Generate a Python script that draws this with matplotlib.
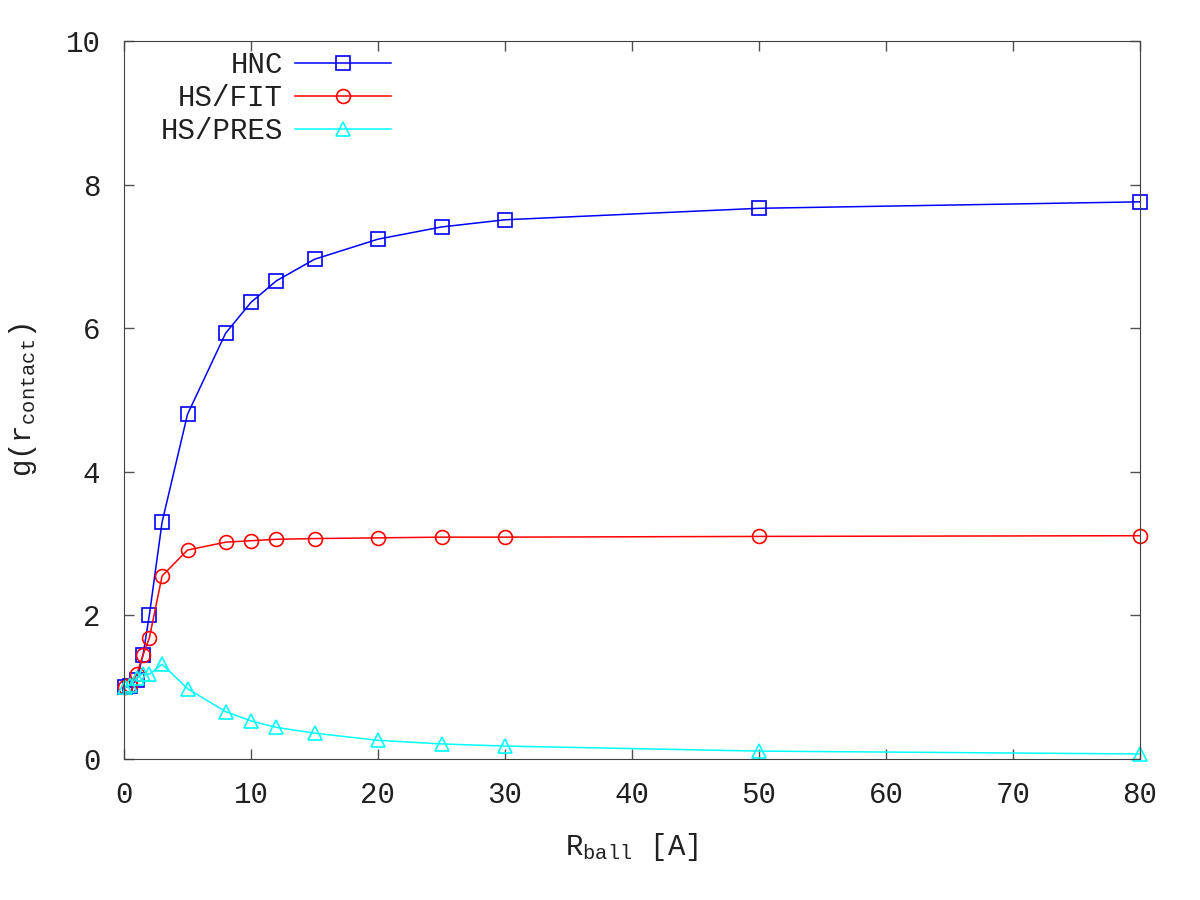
import matplotlib
matplotlib.use('Agg')
import matplotlib.pyplot as plt

plt.rcParams['font.family'] = ['Liberation Mono', 'DejaVu Sans Mono']
plt.rcParams['mathtext.fontset'] = 'custom'
plt.rcParams['mathtext.rm'] = 'Liberation Mono'

# ball radius [A]
r_ball = [0.1, 0.5, 1, 1.5, 2, 3, 5, 8, 10, 12, 15, 20, 25, 30, 50, 80]
g_hnc = [1.0, 1.02, 1.10, 1.45, 2.01, 3.30, 4.80, 5.93, 6.36, 6.66, 6.96, 7.24, 7.41, 7.51, 7.67, 7.76]
g_fit = [1.0, 1.03, 1.18, 1.45, 1.69, 2.55, 2.91, 3.02, 3.04, 3.06, 3.07, 3.08, 3.09, 3.09, 3.10, 3.11]
g_pres = [1.0, 1.03, 1.13, 1.19, 1.18, 1.32, 0.98, 0.66, 0.53, 0.44, 0.36, 0.26, 0.21, 0.18, 0.11, 0.07]

fig = plt.figure(figsize=(12, 9), dpi=100)
ax = fig.add_axes([124/1200, 141/900, (1140-124)/1200, (759-41)/900])

style = dict(lw=1.1, ms=10, mfc='none', mew=1.2, clip_on=False)
ax.plot(r_ball, g_hnc, '-', color='#0000ff', marker='s', label='HNC', **style)
ax.plot(r_ball, g_fit, '-', color='#ff0000', marker='o', label='HS/FIT', **style)
ax.plot(r_ball, g_pres, '-', color='#00ffff', marker='^', label='HS/PRES', **style)

ax.set_xlim(0, 80)
ax.set_ylim(0, 10)
ax.set_xticks(range(0, 81, 10))
ax.set_yticks(range(0, 11, 2))
ax.tick_params(direction='in', top=True, right=True, length=7, width=1,
               labelsize=21, color='#505050', labelcolor='#202020')
ax.tick_params(axis='y', pad=17)
ax.tick_params(axis='x', pad=16)
for s in ax.spines.values():
    s.set_color('#404040')
ax.set_xlabel(r'$\mathregular{R_{ball}}$ [A]', fontsize=21, labelpad=16, color='#202020')
ax.set_ylabel(r'$\mathregular{g(r_{contact})}$', fontsize=21, labelpad=19, color='#202020')

leg = ax.legend(loc='upper left', frameon=False, markerfirst=False, fontsize=21,
                handlelength=3.3, handletextpad=0.4, labelspacing=0.17,
                bbox_to_anchor=(0.016, 1.014), borderaxespad=0.3)
for t in leg.get_texts():
    t.set_color('#202020')

fig.savefig('out.png', dpi=100)
